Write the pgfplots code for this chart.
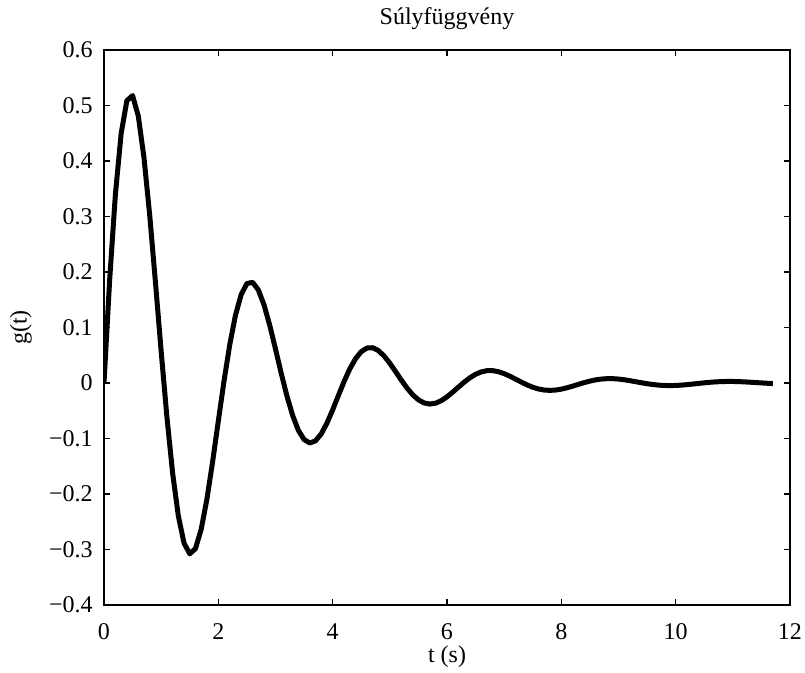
\documentclass[border=0pt]{standalone}
\usepackage{pgfplots}
\pgfplotsset{compat=1.18}
\usepackage{fontspec}
\setmainfont{Liberation Serif}

% impulse response samples, t in s, dt = 0.1
\pgfplotstableread{
t g
0.0 0.00000
0.1 0.18740
0.2 0.34061
0.3 0.44948
0.4 0.50873
0.5 0.51790
0.6 0.48096
0.7 0.40553
0.8 0.30185
0.9 0.18167
1.0 0.05706
1.1 -0.06067
1.2 -0.16191
1.3 -0.23936
1.4 -0.28854
1.5 -0.30784
1.6 -0.29840
1.7 -0.26380
1.8 -0.20946
1.9 -0.14198
2.0 -0.06853
2.1 0.00392
2.2 0.06914
2.3 0.12210
2.4 0.15937
2.5 0.17916
2.6 0.18142
2.7 0.16762
2.8 0.14049
2.9 0.10368
3.0 0.06130
3.1 0.01761
3.2 -0.02346
3.3 -0.05858
3.4 -0.08524
3.5 -0.10191
3.6 -0.10810
3.7 -0.10425
3.8 -0.09167
3.9 -0.07227
4.0 -0.04841
4.1 -0.02259
4.2 0.00274
4.3 0.02543
4.4 0.04374
4.5 0.05648
4.6 0.06308
4.7 0.06354
4.8 0.05840
4.9 0.04866
5.0 0.03559
5.1 0.02065
5.2 0.00534
5.3 -0.00899
5.4 -0.02117
5.5 -0.03034
5.6 -0.03598
5.7 -0.03795
5.8 -0.03641
5.9 -0.03184
6.0 -0.02493
6.1 -0.01649
6.2 -0.00742
6.3 0.00144
6.4 0.00933
6.5 0.01565
6.6 0.02001
6.7 0.02220
6.8 0.02224
6.9 0.02034
7.0 0.01684
7.1 0.01221
7.2 0.00694
7.3 0.00158
7.4 -0.00342
7.5 -0.00764
7.6 -0.01079
7.7 -0.01270
7.8 -0.01332
7.9 -0.01271
8.0 -0.01106
8.1 -0.00859
8.2 -0.00561
8.3 -0.00242
8.4 0.00067
8.5 0.00341
8.6 0.00560
8.7 0.00708
8.8 0.00781
8.9 0.00779
9.0 0.00708
9.1 0.00583
9.2 0.00418
9.3 0.00233
9.4 0.00045
9.5 -0.00129
9.6 -0.00275
9.7 -0.00384
9.8 -0.00448
9.9 -0.00467
10.0 -0.00444
10.1 -0.00384
10.2 -0.00296
10.3 -0.00191
10.4 -0.00079
10.5 0.00029
10.6 0.00125
10.7 0.00200
10.8 0.00251
10.9 0.00275
11.0 0.00272
11.1 0.00247
11.2 0.00202
11.3 0.00143
11.4 0.00078
11.5 0.00012
11.6 -0.00048
11.7 -0.00099
}\gdata

\begin{document}
\begin{tikzpicture}
\begin{axis}[
  scale only axis,
  width=343pt, height=277.5pt,
  xmin=0, xmax=12, ymin=-0.4, ymax=0.6,
  xtick={0,2,...,12},
  xticklabels={0,2,4,6,8,10,12},
  ytick={-0.4,-0.3,...,0.6},
  yticklabels={−0.4,−0.3,−0.2,−0.1,0,0.1,0.2,0.3,0.4,0.5,0.6},
  tick align=inside,
  major tick length=3pt,
  minor tick num=0,
  axis line style={line width=0.75pt},
  every tick/.style={line width=0.6pt, black},
  ticklabel style={font=\fontsize{12}{14}\selectfont, inner sep=0pt},
  xticklabel style={anchor=north, yshift=-9pt},
  yticklabel style={anchor=east, xshift=-5.5pt},
  label style={font=\fontsize{12}{14}\selectfont},
  title style={font=\fontsize{12}{14}\selectfont, at={(0.5,1.025)}, anchor=base, yshift=0pt},
  title={Súlyfüggvény},
  xlabel={t (s)},
  ylabel={g(t)},
  xlabel style={at={(axis description cs:0.5,-0.0937)}, anchor=center},
  ylabel style={at={(axis description cs:-0.121,0.5)}, anchor=center},
]
\addplot[black, line width=2.5pt, line join=round] table[x=t, y=g] {\gdata};
\end{axis}
\pgfresetboundingbox
\path (current axis.south west) ++(-52pt,-34pt) rectangle ++(402.5pt,336.5pt);
\end{tikzpicture}
\end{document}
